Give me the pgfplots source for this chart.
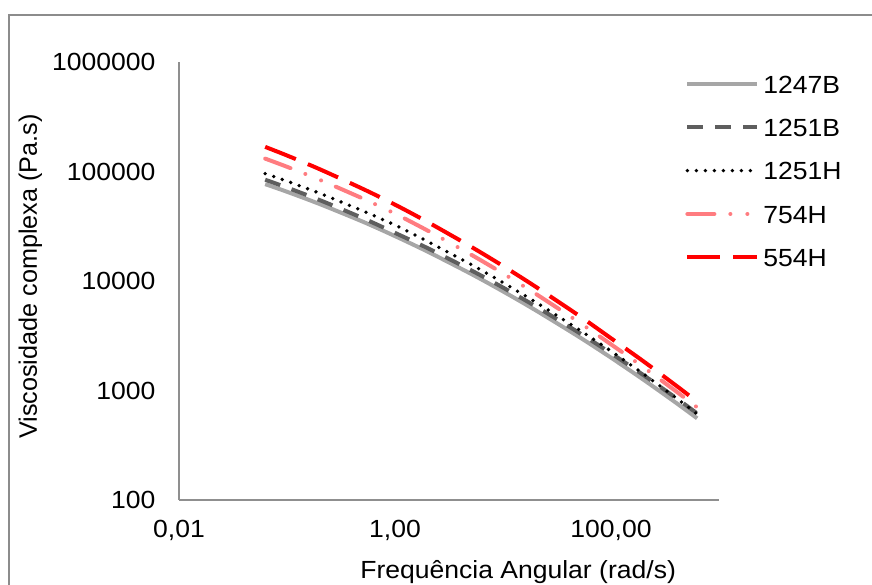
\documentclass[border=0pt]{standalone}
\usepackage{pgfplots}
\usepackage{pgfplotstable}
\pgfplotsset{compat=1.18}
\usepackage{fontspec}
\setmainfont{Liberation Sans}[FakeStretch=1.07]
\newfontfamily\ylabelfont{Liberation Sans}

\definecolor{framegray}{HTML}{8C8C8C}
\definecolor{axisgray}{HTML}{8F8F8F}
\definecolor{c1247B}{HTML}{A6A6A6}
\definecolor{c1251B}{HTML}{5E5E5E}
\definecolor{c754H}{HTML}{FF7C80}
\definecolor{c554H}{HTML}{FF0000}

% Complex viscosity (Pa.s) versus angular frequency (rad/s)
\pgfplotstableread{
w       s1247B  s1251B  s1251H  s754H   s554H
0.0628  76700   84100   95700   131100  167800
0.1     65300   71300   81700   110400  140000
0.2     50500   54900   63300   84100   105100
0.5     34900   37600   43800   56800   69600
1       25700   27500   32400   41200   49800
2       18560   19980   23000   28900   34600
5       11690   12610   14240   17520   20700
10      8035    8710    9660    11720   13710
20      5410    5880    6420    7660    8880
50      3110    3390    3620    4230    4860
100     1995    2190    2290    2640    3000
200     1254    1381    1414    1630    1846
400     772     854     856     983     1110
628     557     617     610     701     790
}\visc

\begin{document}
\fontsize{12.4pt}{15pt}\selectfont
\begin{tikzpicture}
\useasboundingbox (0pt,0pt) rectangle (436pt,292pt);
% chart frame
\draw[framegray, line width=0.6pt] (4.5pt,-5pt) -- (4.5pt,284.5pt) -- (445pt,284.5pt);
\begin{axis}[
  at={(89.5pt,42pt)}, anchor=south west,
  scale only axis, width=270pt, height=219pt,
  xmode=log, ymode=log,
  xmin=0.01, xmax=1000, ymin=100, ymax=1000000,
  axis x line=bottom, axis y line=left,
  axis line style={axisgray, line width=0.6pt, -},
  xtick={0.01,1,100}, xticklabels={{0,01},{1,00},{100,00}},
  ytick={100,1000,10000,100000,1000000},
  yticklabels={100,1000,10000,100000,1000000},
  tick style={draw=none}, minor tick num=0,
  xticklabel style={inner sep=0pt, anchor=north, yshift=-8pt},
  yticklabel style={inner sep=0pt, anchor=east, xshift=-9.5pt},
  xlabel={Frequência Angular (rad/s)},
  ylabel={\ylabelfont\fontsize{12.6pt}{15pt}\selectfont Viscosidade complexa (Pa.s)},
  xlabel style={at={(axis description cs:0.628,-0.180)}, anchor=base, inner sep=0pt},
  ylabel style={at={(axis description cs:-0.263,0.51)}, anchor=base, inner sep=0pt},
  legend cell align=left,
  legend style={draw=none, fill=none, at={(axis description cs:0.9370,0.9726)},
    anchor=north west, inner sep=0pt, row sep=12.3pt,
    nodes={inner ysep=0pt, inner xsep=2pt, text height=9.4pt, text depth=0pt}},
  legend image code/.code={\draw[#1] (0pt,0pt) -- (35pt,0pt);},
]
\addplot[c1247B, line width=2pt, smooth] table[x=w, y=s1247B] {\visc};
\addlegendentry{1247B}
\addplot[c1251B, line width=2pt, dash pattern=on 8pt off 6pt, smooth] table[x=w, y=s1251B] {\visc};
\addlegendentry{1251B}
\addplot[black, line width=1.9pt, line cap=round, dash pattern=on 0pt off 4.5pt, smooth] table[x=w, y=s1251H] {\visc};
\addlegendentry{1251H}
\addplot[c754H, line width=2pt, line cap=round, dash pattern=on 13.5pt off 8pt on 0pt off 8.5pt on 0pt off 8pt, smooth] table[x=w, y=s754H] {\visc};
\addlegendentry{754H}
\addplot[c554H, line width=2pt, dash pattern=on 16.5pt off 6.5pt, smooth] table[x=w, y=s554H] {\visc};
\addlegendentry{554H}
\end{axis}
\end{tikzpicture}
\end{document}
